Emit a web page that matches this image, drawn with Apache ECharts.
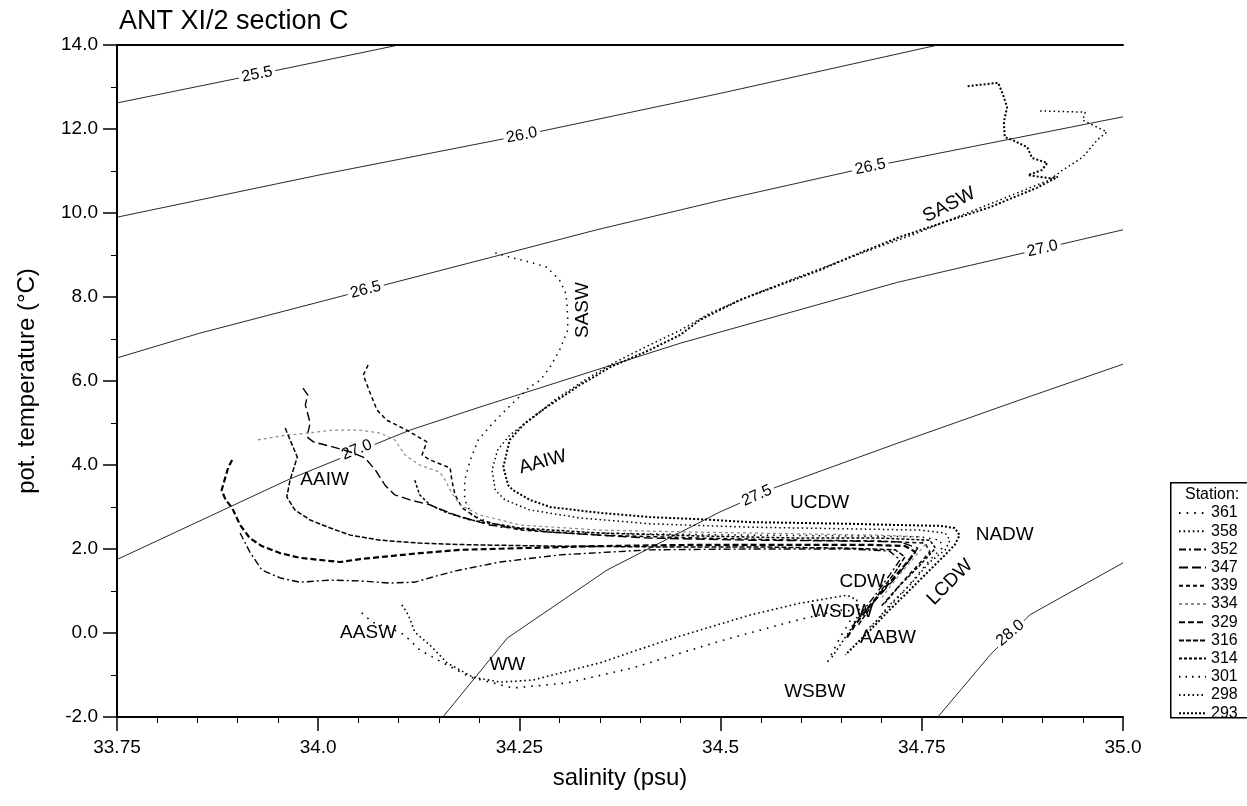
<!DOCTYPE html>
<html>
<head>
<meta charset="utf-8">
<title>ANT XI/2 section C</title>
<script src="https://cdn.jsdelivr.net/npm/echarts/dist/echarts.min.js"></script>
<style>
  html, body { margin: 0; padding: 0; background: #fff; }
  #chart { width: 1247px; height: 806px; }
</style>
</head>
<body>
<div id="chart"></div>
<script>
// ---- axis tick labels ----
const xTickLabels = ['33.75', '34.0', '34.25', '34.5', '34.75', '35.0'];
const yTickLabels = ['-2.0', '0.0', '2.0', '4.0', '6.0', '8.0', '10.0', '12.0', '14.0'];

// ---- stations, in legend order ----
const stationNames = ['361', '358', '352', '347', '339', '334', '329', '316', '314', '301', '298', '293'];

// ---- theta/S profiles: [salinity (psu), pot. temperature (°C)] ----
const st361 = [[34.054,0.48],[34.067,0.26],[34.102,0.02],[34.114,-0.17],[34.126,-0.40],[34.155,-0.71],[34.189,-1.05],[34.242,-1.31],[34.309,-1.19],[34.391,-0.83],[34.496,-0.21],[34.586,0.26],[34.648,0.55],[34.665,0.52],[34.660,0.25],[34.650,-0.05],[34.642,-0.35],[34.631,-0.76]];
const st358 = [[34.104,0.67],[34.112,0.43],[34.120,0.02],[34.139,-0.29],[34.160,-0.71],[34.192,-1.05],[34.226,-1.17],[34.267,-1.12],[34.350,-0.71],[34.433,-0.17],[34.537,0.43],[34.599,0.71],[34.657,0.90],[34.669,0.79],[34.673,0.50],[34.661,0.07],[34.646,-0.36],[34.636,-0.64]];
const st352 = [[33.903,2.38],[33.915,1.93],[33.930,1.50],[33.953,1.31],[33.977,1.21],[34.015,1.26],[34.052,1.24],[34.089,1.19],[34.120,1.21],[34.151,1.38],[34.176,1.50],[34.226,1.69],[34.300,1.86],[34.412,1.98],[34.536,2.00],[34.661,2.00],[34.710,1.95],[34.723,1.74],[34.710,1.38],[34.692,0.90],[34.676,0.50],[34.661,0.07]];
const st347 = [[33.981,5.83],[33.987,5.67],[33.984,5.43],[33.990,5.00],[33.986,4.67],[33.994,4.55],[34.018,4.43],[34.040,4.31],[34.058,4.17],[34.071,3.88],[34.083,3.52],[34.095,3.29],[34.114,3.17],[34.139,3.05],[34.170,2.81],[34.213,2.57],[34.288,2.40],[34.412,2.26],[34.536,2.21],[34.661,2.19],[34.723,2.17],[34.745,2.02],[34.735,1.74],[34.717,1.31],[34.698,0.90],[34.679,0.50]];
const st339 = [[34.062,6.38],[34.056,6.14],[34.064,5.74],[34.073,5.31],[34.085,5.07],[34.110,4.83],[34.135,4.55],[34.129,4.24],[34.139,4.12],[34.164,3.93],[34.166,3.64],[34.170,3.29],[34.179,2.98],[34.201,2.69],[34.251,2.45],[34.350,2.33],[34.474,2.26],[34.599,2.21],[34.698,2.19],[34.754,2.14],[34.760,1.93],[34.742,1.55],[34.717,1.02],[34.698,0.60]];
const st334 = [[33.925,4.60],[33.953,4.69],[33.977,4.74],[34.018,4.83],[34.052,4.83],[34.077,4.76],[34.095,4.60],[34.108,4.24],[34.126,4.00],[34.151,3.83],[34.158,3.64],[34.164,3.40],[34.176,3.05],[34.201,2.81],[34.251,2.57],[34.350,2.45],[34.474,2.40],[34.599,2.36],[34.698,2.33],[34.748,2.29],[34.754,2.10],[34.738,1.74],[34.717,1.26],[34.698,0.79]];
const st329 = [[33.893,4.12],[33.888,3.93],[33.880,3.40],[33.885,3.17],[33.893,2.98],[33.903,2.57],[33.915,2.26],[33.930,2.07],[33.953,1.90],[33.977,1.79],[34.002,1.74],[34.027,1.69],[34.052,1.76],[34.089,1.83],[34.126,1.90],[34.176,1.98],[34.251,2.02],[34.350,2.07],[34.474,2.10],[34.599,2.10],[34.686,2.10],[34.729,2.07],[34.742,1.93],[34.729,1.62],[34.704,1.07],[34.686,0.67],[34.667,0.19],[34.655,-0.17]];
const st316 = [[33.959,4.88],[33.965,4.60],[33.974,4.19],[33.969,3.88],[33.965,3.64],[33.961,3.24],[33.971,2.93],[33.990,2.69],[34.015,2.50],[34.040,2.33],[34.077,2.21],[34.126,2.14],[34.189,2.10],[34.288,2.07],[34.412,2.05],[34.536,2.05],[34.661,2.02],[34.717,1.98],[34.729,1.81],[34.717,1.45],[34.698,0.98],[34.686,0.60],[34.671,0.19]];
const st314 = [[34.120,3.64],[34.126,3.29],[34.139,3.05],[34.158,2.88],[34.189,2.69],[34.251,2.50],[34.350,2.38],[34.474,2.31],[34.599,2.26],[34.698,2.26],[34.760,2.21],[34.767,2.02],[34.748,1.62],[34.723,1.14],[34.704,0.71]];
const st301 = [[34.220,9.05],[34.242,8.93],[34.263,8.83],[34.284,8.71],[34.300,8.40],[34.307,8.12],[34.309,7.86],[34.310,7.50],[34.310,7.21],[34.304,6.93],[34.300,6.74],[34.288,6.33],[34.276,6.02],[34.263,5.86],[34.242,5.48],[34.217,5.00],[34.199,4.60],[34.189,4.12],[34.182,3.64],[34.182,3.17],[34.191,2.81],[34.226,2.52],[34.300,2.40],[34.412,2.36],[34.536,2.33],[34.661,2.31],[34.748,2.29],[34.773,2.21],[34.775,2.02],[34.760,1.74],[34.729,1.02],[34.704,0.50],[34.686,0.12]];
const st298 = [[34.897,12.43],[34.953,12.40],[34.950,12.21],[34.980,11.93],[34.968,11.74],[34.950,11.33],[34.925,11.02],[34.909,10.79],[34.878,10.55],[34.847,10.31],[34.797,9.93],[34.744,9.52],[34.686,9.12],[34.636,8.76],[34.586,8.40],[34.536,8.02],[34.487,7.62],[34.450,7.21],[34.412,6.86],[34.369,6.45],[34.331,6.02],[34.294,5.55],[34.263,5.07],[34.238,4.71],[34.223,4.36],[34.216,3.88],[34.220,3.40],[34.232,3.17],[34.263,2.93],[34.325,2.74],[34.412,2.60],[34.536,2.52],[34.661,2.48],[34.748,2.45],[34.779,2.38],[34.785,2.21],[34.779,1.98],[34.760,1.69],[34.735,1.14],[34.710,0.67],[34.692,0.26],[34.679,0.02]];
const st293 = [[34.807,13.02],[34.845,13.10],[34.851,12.81],[34.856,12.52],[34.852,12.17],[34.853,11.81],[34.862,11.74],[34.881,11.57],[34.887,11.31],[34.906,11.19],[34.899,11.02],[34.882,10.90],[34.909,10.83],[34.919,10.86],[34.893,10.60],[34.835,10.14],[34.779,9.79],[34.723,9.43],[34.673,9.05],[34.623,8.64],[34.574,8.29],[34.524,7.93],[34.474,7.45],[34.450,7.10],[34.412,6.74],[34.363,6.33],[34.325,5.90],[34.284,5.38],[34.257,5.00],[34.238,4.60],[34.230,3.95],[34.236,3.52],[34.242,3.40],[34.263,3.17],[34.288,3.00],[34.350,2.86],[34.412,2.76],[34.474,2.71],[34.536,2.64],[34.599,2.62],[34.661,2.60],[34.723,2.57],[34.773,2.55],[34.791,2.50],[34.797,2.33],[34.791,2.10],[34.779,1.86],[34.760,1.50],[34.735,1.02],[34.710,0.55],[34.686,0.07],[34.667,-0.29],[34.655,-0.52]];

// ---- sigma-theta isopycnals: [salinity, pot. temperature] ----
const sigma255 = [[33.75,12.62],[33.924,13.30],[34.10,14.0]];
const sigma260 = [[33.75,9.90],[34.0,10.90],[34.253,11.85],[34.5,12.85],[34.77,14.0]];
const sigma265 = [[33.75,6.55],[33.853,7.14],[34.059,8.17],[34.226,9.0],[34.346,9.60],[34.5,10.30],[34.686,11.10],[35.0,12.29]];
const sigma270 = [[33.75,1.75],[33.965,3.67],[34.114,4.83],[34.201,5.38],[34.45,6.90],[34.72,8.35],[35.0,9.60]];
const sigma275 = [[34.155,-2.0],[34.235,-0.12],[34.359,1.50],[34.499,2.88],[34.57,3.48],[34.72,4.52],[34.872,5.55],[35.0,6.40]];
const sigma280 = [[34.77,-2.0],[34.835,-0.52],[34.884,0.43],[35.0,1.67]];

// ---- isopycnal labels ----
const isoLabelNames = ['25.5', '26.0', '26.5', '26.5', '27.0', '27.0', '27.5', '28.0'];
const isoLabelPoints = [[33.924,13.30],[34.253,11.85],[34.059,8.17],[34.686,11.10],[34.048,4.36],[34.90,9.15],[34.545,3.27],[34.86,0.0]];

// ---- water mass labels ----
const massNames = ['SASW', 'SASW', 'AAIW', 'AAIW', 'UCDW', 'NADW', 'LCDW', 'CDW', 'WSDW', 'AABW', 'WSBW', 'AASW', 'WW'];
const massPoints = [[34.784,10.19],[34.329,7.69],[34.279,4.07],[34.008,3.64],[34.623,3.10],[34.853,2.33],[34.785,1.21],[34.676,1.21],[34.651,0.50],[34.708,-0.12],[34.617,-1.40],[34.062,0.0],[34.235,-0.76]];

// ---- drawing ----
const FONT = '"Liberation Sans", Arial, Helvetica, sans-serif';
const stationData = [st361, st358, st352, st347, st339, st334, st329, st316, st314, st301, st298, st293];
const stationStyles = [
  { color: '#000', width: 1.6, dash: [1.6, 6] },      // 361
  { color: '#000', width: 1.6, dash: [1.6, 3] },      // 358
  { color: '#000', width: 1.4, dash: [7, 3, 2, 3] },  // 352
  { color: '#000', width: 1.4, dash: [9, 4] },        // 347
  { color: '#000', width: 1.5, dash: [4, 3] },        // 339
  { color: '#8c8c8c', width: 1.2, dash: [3, 3] },     // 334
  { color: '#000', width: 2.2, dash: [6, 3] },        // 329
  { color: '#000', width: 1.5, dash: [5, 2] },        // 316
  { color: '#000', width: 1.5, dash: [3, 2] },        // 314
  { color: '#000', width: 1.5, dash: [1.5, 5] },      // 301
  { color: '#000', width: 1.5, dash: [1.5, 3] },      // 298
  { color: '#000', width: 2.0, dash: [2, 2] }         // 293
];
const isoLabelAngles = [11.5, 11, 14.5, 11.5, 22, 13, 24, 40];
const massAngles = [27, 90, 15, 0, 0, 0, 45, 0, 0, 0, 0, 0, 0];

// text-only marker series: an invisible point carrying a centred label
function textSeries(points, names, angles, size, z, masked) {
  return {
    type: 'scatter', silent: true, z: z, symbol: 'circle', symbolSize: 0.01,
    itemStyle: { color: '#000' },
    label: Object.assign({
      show: true, position: 'inside', color: '#000', opacity: 1,
      fontSize: size, fontFamily: FONT, textBorderWidth: 0
    }, masked ? { backgroundColor: '#fff', padding: [0, 3] } : {}),
    data: points.map(function (p, i) {
      return { value: p, label: { formatter: names[i], rotate: angles[i] } };
    })
  };
}

const series = [];
[sigma255, sigma260, sigma265, sigma270, sigma275, sigma280].forEach(function (line) {
  series.push({
    type: 'line', data: line, symbol: 'none', silent: true, z: 1,
    lineStyle: { color: '#111', width: 0.9 }
  });
});
series.push(textSeries(isoLabelPoints, isoLabelNames, isoLabelAngles, 16, 2, true));
stationNames.forEach(function (name, i) {
  const st = stationStyles[i];
  series.push({
    name: name, type: 'line', data: stationData[i], symbol: 'none', showSymbol: false,
    silent: true, z: 3,
    lineStyle: { color: st.color, width: st.width, type: st.dash, cap: 'butt' },
    itemStyle: { color: st.color }
  });
});
series.push(textSeries(massPoints, massNames, massAngles, 19, 4, false));

const axisText = { color: '#000', fontSize: 19, fontFamily: FONT };

const option = {
  animation: false,
  backgroundColor: '#fff',
  title: {
    text: 'ANT XI/2 section C', left: 114, top: 3,
    textStyle: { color: '#000', fontSize: 27, fontWeight: 'normal', fontFamily: FONT }
  },
  grid: { left: 117, top: 45, right: 124, bottom: 89, containLabel: false },
  xAxis: [{
    type: 'value', min: 33.75, max: 35.0, interval: 0.25,
    name: 'salinity (psu)', nameLocation: 'middle', nameGap: 49,
    nameTextStyle: { color: '#000', fontSize: 24, fontFamily: FONT },
    axisLine: { show: true, onZero: false, lineStyle: { color: '#000', width: 2 } },
    axisTick: { show: true, inside: false, length: 14, lineStyle: { color: '#000', width: 1.5 } },
    minorTick: { show: true, splitNumber: 5, length: 6, lineStyle: { color: '#000', width: 1 } },
    axisLabel: Object.assign({ margin: 21, formatter: function (v) {
      return xTickLabels[Math.round((v - 33.75) / 0.25)];
    } }, axisText),
    splitLine: { show: false }
  }, {
    type: 'value', min: 33.75, max: 35.0, position: 'top',
    axisLine: { show: true, onZero: false, lineStyle: { color: '#000', width: 2 } },
    axisTick: { show: false }, axisLabel: { show: false }, splitLine: { show: false }
  }],
  yAxis: {
    type: 'value', min: -2, max: 14, interval: 2,
    name: 'pot. temperature (°C)', nameLocation: 'middle', nameGap: 78,
    nameTextStyle: { color: '#000', fontSize: 24, fontFamily: FONT },
    axisLine: { show: true, onZero: false, lineStyle: { color: '#000', width: 2 } },
    axisTick: { show: true, inside: false, length: 14, lineStyle: { color: '#000', width: 1.5 } },
    minorTick: { show: true, splitNumber: 2, length: 6, lineStyle: { color: '#000', width: 1 } },
    axisLabel: Object.assign({ margin: 19, formatter: function (v) {
      return yTickLabels[Math.round((v + 2) / 2)];
    } }, axisText),
    splitLine: { show: false }
  },
  legend: {
    data: stationNames, orient: 'vertical', left: 1173, top: 500,
    itemWidth: 27, itemHeight: 14, itemGap: 2.2, padding: 5,
    selectedMode: false,
    itemStyle: { opacity: 0 },
    textStyle: { color: '#000', fontSize: 16, lineHeight: 16, fontFamily: FONT }
  },
  graphic: [
    { type: 'rect', left: 1170, top: 482, shape: { width: 90, height: 235 },
      style: { fill: '#fff', stroke: '#000', lineWidth: 1.5 }, z: -1 },
    { type: 'text', left: 1185, top: 487,
      style: { text: 'Station:', fill: '#000', font: '16px ' + FONT } }
  ],
  series: series
};

const chart = echarts.init(document.getElementById('chart'));
chart.setOption(option);
</script>
</body>
</html>
